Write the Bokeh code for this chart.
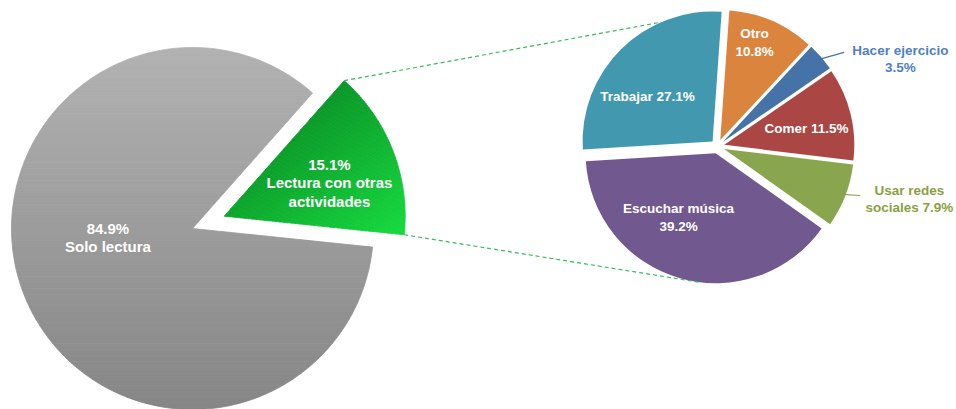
import math
import numpy as np
from bokeh.plotting import figure
from bokeh.models import Range1d
from bokeh.core.properties import value
from bokeh.embed import file_html
from bokeh.resources import INLINE

# ---------------- data ----------------
main_labels = ["Solo lectura", "Lectura con otras actividades"]
main_values = [84.9, 15.1]
main_label_lines = [["{v}", "Solo lectura"], ["{v}", "Lectura con otras", "actividades"]]

sub_labels = ["Otro", "Hacer ejercicio", "Comer", "Usar redes sociales", "Escuchar música", "Trabajar"]
sub_values = [10.8, 3.5, 11.5, 7.9, 39.2, 27.1]
sub_label_lines = [["Otro", "{v}"], ["Hacer ejercicio", "{v}"], ["Comer {v}"],
                   ["Usar redes", "sociales {v}"], ["Escuchar música", "{v}"], ["Trabajar {v}"]]

# ---------------- styles / layout ----------------
sub_colors = ["#db843d", "#4572a7", "#aa4643", "#89a54e", "#71588f", "#4198af"]
sub_text_colors = ["white", "#4f7fc4", "white", "#8a9f45", "white", "white"]
# label anchor: (angle deg, radius factor) relative to sub pie centre
sub_label_pos = [(70.3, 0.846), (25.6, 1.56), (11.4, 0.698), (-15.3, 1.53), (-118.6, 0.626), (144.5, 0.662)]
sub_outside = [False, True, False, True, False, False]
main_label_pos = [(186.0, 0.47), (17.6, 0.61)]

FONT = value("Liberation Sans")
W, H = 956, 409


def Y(sy):
    return H - sy


MC = (192.0, Y(228)); MR = 181.0
M_START = -5.9            # angle where the exploded slice begins
GREEN_EXPLODE = 34.0
SC = (717.0, Y(146)); SR = 130.0
S_START = 86.0            # sub pie starts here and runs clockwise
S_EXPLODE = 7.0

p = figure(width=W, height=H, x_range=Range1d(0, W), y_range=Range1d(0, H),
           x_axis_type=None, y_axis_type=None, output_backend="svg",
           toolbar_location=None, min_border=0, outline_line_color=None)
p.background_fill_color = "white"
p.border_fill_color = "white"


def wedge_poly(cx, cy, r, a0, a1, n=240):
    t = np.radians(np.linspace(a0, a1, n))
    xs = [cx] + list(cx + r * np.cos(t))
    ys = [cy] + list(cy + r * np.sin(t))
    return list(zip(xs, ys))


def clip(pts, d, t, keep_ge):
    out = []
    n = len(pts)
    for i in range(n):
        P = pts[i]; Q = pts[(i + 1) % n]
        fp = P[0] * d[0] + P[1] * d[1] - t
        fq = Q[0] * d[0] + Q[1] * d[1] - t
        if not keep_ge:
            fp, fq = -fp, -fq
        inP, inQ = fp >= 0, fq >= 0
        if inP:
            out.append(P)
        if inP != inQ:
            s = fp / (fp - fq)
            out.append((P[0] + s * (Q[0] - P[0]), P[1] + s * (Q[1] - P[1])))
    return out


def gradient(pts, d, c0, c1, n=60):
    proj = [x * d[0] + y * d[1] for x, y in pts]
    tmin, tmax = min(proj), max(proj)
    gx, gy, cols = [], [], []
    for k in range(n):
        a = tmin + (tmax - tmin) * k / n
        b = tmin + (tmax - tmin) * (k + 1) / n
        poly = clip(clip(pts, d, a, True), d, b, False)
        if len(poly) < 3:
            continue
        f = (k + 0.5) / n
        col = "#%02x%02x%02x" % tuple(int(round(c0[i] + (c1[i] - c0[i]) * f)) for i in range(3))
        gx.append([q[0] for q in poly]); gy.append([q[1] for q in poly]); cols.append(col)
    return gx, gy, cols


# ---------------- main pie ----------------
g0 = M_START
g1 = g0 + 3.6 * main_values[1]
gm = math.radians((g0 + g1) / 2)
GA = (MC[0] + GREEN_EXPLODE * math.cos(gm), MC[1] + GREEN_EXPLODE * math.sin(gm))

gray_pts = wedge_poly(MC[0], MC[1], MR, g1, g0 + 360)
gx, gy, gc = gradient(gray_pts, (0, -1), (178, 178, 178), (134, 134, 134))
p.patches(gx, gy, fill_color=gc, line_color=gc, line_width=0.8)

green_pts = wedge_poly(GA[0], GA[1], MR, g0, g1)
gx, gy, gc = gradient(green_pts, (0.6, -0.8), (10, 150, 40), (22, 218, 62))
p.patches(gx, gy, fill_color=gc, line_color=gc, line_width=0.8)

# main labels
centres = [MC, GA]
for i, v in enumerate(main_values):
    ang, fac = main_label_pos[i]
    cx, cy = centres[i]
    ax = cx + fac * MR * math.cos(math.radians(ang))
    ay = cy + fac * MR * math.sin(math.radians(ang))
    lines = [s.format(v=f"{v:.1f}%") for s in main_label_lines[i]]
    n = len(lines); lh = 18.5
    ys = [ay + (n - 1) * lh / 2 - k * lh for k in range(n)]
    p.text(x=[ax] * n, y=ys, text=lines, text_font=FONT, text_font_size="15px",
           text_font_style="bold", text_color="white", text_align="center", text_baseline="middle")

# ---------------- sub pie ----------------
cum = 0.0
slice_info = []
for i, v in enumerate(sub_values):
    a_hi = S_START - cum * 3.6
    a_lo = a_hi - v * 3.6
    cum += v
    mid = math.radians((a_lo + a_hi) / 2)
    cx = SC[0] + S_EXPLODE * math.cos(mid)
    cy = SC[1] + S_EXPLODE * math.sin(mid)
    slice_info.append((cx, cy, a_lo, a_hi, mid))

p.wedge(x=[s[0] for s in slice_info], y=[s[1] for s in slice_info], radius=SR,
        start_angle=[math.radians(s[2]) for s in slice_info],
        end_angle=[math.radians(s[3]) for s in slice_info],
        fill_color=sub_colors, line_color=None)

for i, v in enumerate(sub_values):
    cx, cy, a_lo, a_hi, mid = slice_info[i]
    ang, fac = sub_label_pos[i]
    ax = SC[0] + fac * SR * math.cos(math.radians(ang))
    ay = SC[1] + fac * SR * math.sin(math.radians(ang))
    lines = [s.format(v=f"{v:.1f}%") for s in sub_label_lines[i]]
    n = len(lines); lh = 18.0 if not sub_outside[i] else 17.0
    ys = [ay + (n - 1) * lh / 2 - k * lh for k in range(n)]
    p.text(x=[ax] * n, y=ys, text=lines, text_font=FONT, text_font_size="13.5px",
           text_font_style="bold", text_color=sub_text_colors[i],
           text_align="center", text_baseline="middle")
    if sub_outside[i]:
        sx = cx + (SR - 4) * math.cos(mid)
        sy = cy + (SR - 4) * math.sin(mid)
        half = 7.1 * max(len(l) for l in lines) / 2 if i == 3 else 7.1 * len(lines[0]) / 2
        ex = ax - (half + 3)
        ey = ys[0] - (2 if i == 1 else 5)
        p.line([sx, ex], [sy, ey], line_color=sub_colors[i], line_width=1.2)

# ---------------- connector lines ----------------
top_slice = slice_info[5]
bot_slice = slice_info[4]
t_ang, b_ang = math.radians(113.3), math.radians(-97.4)
top_end = (top_slice[0] + SR * math.cos(t_ang), top_slice[1] + SR * math.sin(t_ang))
bot_end = (bot_slice[0] + SR * math.cos(b_ang), bot_slice[1] + SR * math.sin(b_ang))
top_start = (GA[0] + MR * math.cos(math.radians(g1)), GA[1] + MR * math.sin(math.radians(g1)))
bot_start = (GA[0] + MR * math.cos(math.radians(g0)), GA[1] + MR * math.sin(math.radians(g0)))
p.multi_line(xs=[[top_start[0], top_end[0]], [bot_start[0], bot_end[0]]],
             ys=[[top_start[1], top_end[1]], [bot_start[1], bot_end[1]]],
             line_color="#3cb860", line_width=1.2, line_dash="4 3")

open("out.html", "w").write(file_html(p, INLINE))
